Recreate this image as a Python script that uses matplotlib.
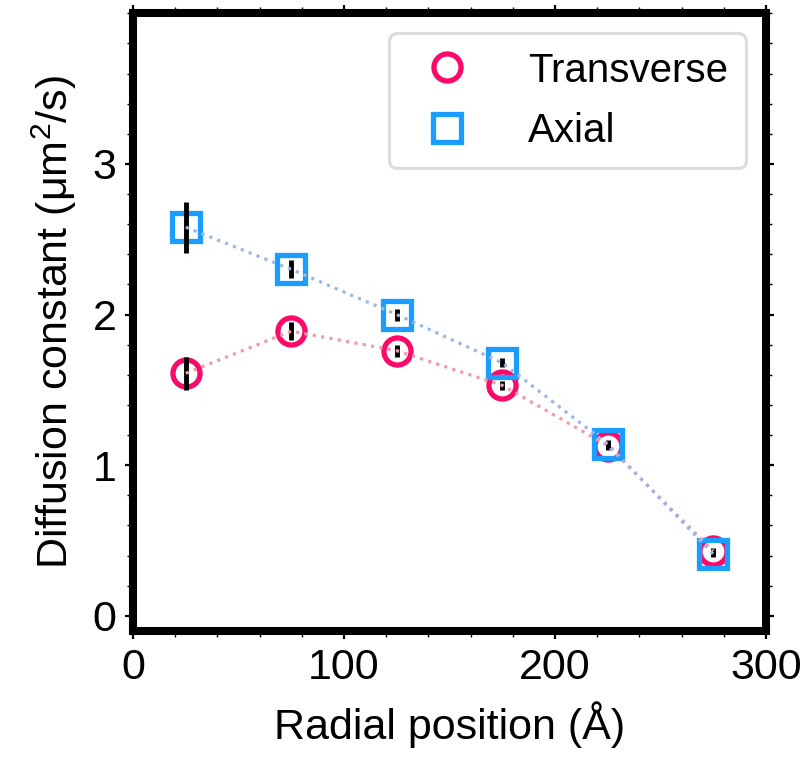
import matplotlib
matplotlib.use("Agg")
import matplotlib.pyplot as plt
from matplotlib.lines import Line2D
from matplotlib.ticker import MultipleLocator

plt.rcParams['font.family'] = ['Liberation Sans', 'DejaVu Sans']
plt.rcParams['mathtext.fontset'] = 'custom'
plt.rcParams['mathtext.rm'] = 'Liberation Sans'

# Radial bins (Å) and diffusion constants (µm²/s)
radius = [25, 75, 125, 175, 225, 275]
transverse = [1.61, 1.89, 1.76, 1.53, 1.13, 0.43]
transverse_err = [0.11, 0.06, 0.04, 0.03, 0.03, 0.02]
axial = [2.58, 2.30, 2.00, 1.68, 1.14, 0.41]
axial_err = [0.17, 0.06, 0.04, 0.03, 0.03, 0.02]

c_trans = '#fb0a6a'
c_axial = '#1a9dff'
c_trans_line = '#f59aab'
c_axial_line = '#9ab8e6'

fig = plt.figure(figsize=(8.11, 7.61), dpi=100)
ax = fig.add_axes([0.164, 0.171, 0.7805, 0.8115])

ms = 19.5
mew = 3.8

ax.plot(radius, transverse, 'o', ms=ms, mfc='white', mec=c_trans, mew=mew, zorder=2)
ax.plot(radius, axial, 's', ms=ms, mfc='none', mec=c_axial, mew=mew, zorder=3)
ax.errorbar(radius, transverse, yerr=transverse_err, fmt='none', ecolor='black',
            elinewidth=3.5, capsize=0, zorder=4)
ax.errorbar(radius, axial, yerr=axial_err, fmt='none', ecolor='black',
            elinewidth=3.5, capsize=0, zorder=4)
ax.plot(radius, transverse, ':', color=c_trans_line, lw=2.3, zorder=5)
ax.plot(radius, axial, ':', color=c_axial_line, lw=2.3, zorder=5)

ax.set_xlim(0, 300)
ax.set_ylim(-0.1, 4.0)
ax.set_xticks([0, 100, 200, 300])
ax.set_yticks([0, 1, 2, 3])
ax.xaxis.set_minor_locator(MultipleLocator(20))
ax.yaxis.set_minor_locator(MultipleLocator(0.2))

for s in ax.spines.values():
    s.set_linewidth(5.8)
ax.tick_params(which='both', direction='out', top=True, right=True,
               labelsize=31, pad=6)
ax.tick_params(which='major', length=6, width=1.6)
ax.tick_params(which='minor', length=4.5, width=1.0)

ax.set_xlabel('Radial position (Å)', fontsize=31, labelpad=10)
ax.set_ylabel('Diffusion constant (μm$^2$/s)', fontsize=31, labelpad=10)

handles = [
    Line2D([], [], ls='none', marker='o', ms=ms, mfc='white', mec=c_trans, mew=mew),
    Line2D([], [], ls='none', marker='s', ms=ms, mfc='none', mec=c_axial, mew=mew),
]
leg = ax.legend(handles, ['Transverse', 'Axial'], loc='upper right', fontsize=29,
                frameon=True, fancybox=True, handletextpad=1.0, borderaxespad=0.5,
                labelspacing=0.55, borderpad=0.45, handlelength=2.0)
leg.get_frame().set_edgecolor('#dcdcdc')
leg.get_frame().set_linewidth(2.2)
leg.get_frame().set_alpha(1)

fig.savefig('out.png', dpi=100)
